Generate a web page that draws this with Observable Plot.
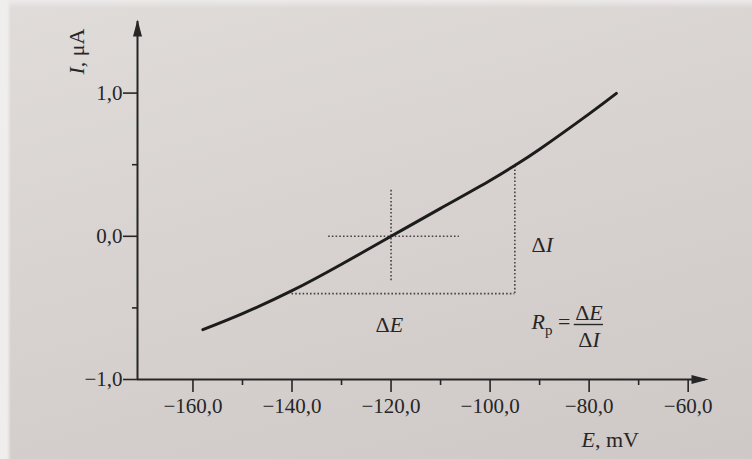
<!DOCTYPE html>
<html>
<head>
<meta charset="utf-8">
<script src="https://cdn.jsdelivr.net/npm/d3@7"></script>
<script src="https://cdn.jsdelivr.net/npm/@observablehq/plot@0.6"></script>
<style>
  html, body { margin: 0; padding: 0; }
  body {
    width: 752px; height: 459px; overflow: hidden;
    background:
      linear-gradient(to right, rgba(240,238,237,1) 0px, rgba(240,238,237,1) 7px, rgba(240,238,237,0) 11px),
      linear-gradient(to bottom, rgba(236,234,233,1) 0px, rgba(236,234,233,0) 8px),
      linear-gradient(165deg, #e0dcda 0%, #d8d3d1 45%, #cec9c7 100%);
  }
  #chart svg { display: block; }
</style>
</head>
<body>
<div id="chart"></div>
<script>
// Curve: potential E (mV) and current I (µA)
const E = [-158, -150, -140, -130, -120, -110, -100, -95, -90, -80, -74.5];
const I = [-0.652, -0.54, -0.38, -0.195, 0, 0.195, 0.39, 0.495, 0.608, 0.855, 0.998];

// Axis ticks
const xTicks = [-160, -140, -120, -100, -80, -60];
const xMinor = [-150, -130, -110, -90, -70];
const yTicks = [-1, 0, 1];
const yMinor = [-0.5, 0.5];

// Axis extents (origin at bottom-left, arrows at the ends)
const xDomain = [-171.2, -56.5];
const yDomain = [-1, 1.5];

// Dotted construction lines
const rectE = [-140, -95];        // ΔE span
const rectI = [-0.40, 0.49];      // ΔI span
const crossE = [-132.6, -106.2];  // horizontal cross-hair through (−120, 0)
const crossI = [-0.31, 0.33];     // vertical cross-hair
const zeroE = -120;               // corrosion potential

const fmt = d => d.toFixed(1).replace("-", "\u2212").replace(".", ",");
const ink = "#262626";
const dotted = {stroke: "#444", strokeWidth: 1.6, strokeDasharray: "1.6,2.1"};

const arrowUp = {draw(ctx) { ctx.moveTo(0, 0); ctx.lineTo(-4.5, 17); ctx.lineTo(4.5, 17); ctx.closePath(); }};
const arrowRight = {draw(ctx) { ctx.moveTo(0, 0); ctx.lineTo(-17, -4.5); ctx.lineTo(-17, 4.5); ctx.closePath(); }};

const curve = E.map((e, i) => ({E: e, I: I[i]}));

const chart = Plot.plot({
  width: 752,
  height: 459,
  marginLeft: 137,
  marginRight: 47,
  marginTop: 21,
  marginBottom: 80,
  x: {domain: xDomain},
  y: {domain: yDomain},
  style: {background: "transparent", fontFamily: "'Liberation Serif', 'DejaVu Serif', serif", color: ink},
  marks: [
    // axis lines and arrowheads
    Plot.ruleY([yDomain[0]], {stroke: ink, strokeWidth: 2}),
    Plot.ruleX([xDomain[0]], {stroke: ink, strokeWidth: 2}),
    Plot.dot([0], {x: xDomain[0], y: yDomain[1], symbol: arrowUp, fill: ink, stroke: "none", dy: -2}),
    Plot.dot([0], {x: xDomain[1], y: yDomain[0], symbol: arrowRight, fill: ink, stroke: "none", dx: 3}),
    // ticks
    Plot.axisX(xTicks, {tickSize: 13, tickPadding: 6, tickFormat: fmt, fontSize: 21, strokeWidth: 1.6, label: null}),
    Plot.axisX(xMinor, {tickSize: 6, tickFormat: () => "", strokeWidth: 1.6, label: null}),
    Plot.axisY(yTicks, {tickSize: 14, tickPadding: 1, tickFormat: fmt, fontSize: 21, strokeWidth: 1.6, label: null}),
    Plot.axisY(yMinor, {tickSize: 5, tickFormat: () => "", strokeWidth: 1.6, label: null}),
    // dotted construction
    Plot.ruleY([rectI[0]], {x1: rectE[0], x2: rectE[1], ...dotted}),
    Plot.ruleX([rectE[1]], {y1: rectI[0], y2: rectI[1], ...dotted}),
    Plot.ruleY([0], {x1: crossE[0], x2: crossE[1], ...dotted}),
    Plot.ruleX([zeroE], {y1: crossI[0], y2: crossI[1], ...dotted}),
    // polarisation curve
    Plot.line(curve, {x: "E", y: "I", curve: "natural", stroke: "#1c1c1c", strokeWidth: 3}),
    // axis titles
    Plot.text(["I, μA"], {frameAnchor: "top-left", dx: 76 - 137, dy: 51 - 21, rotate: -90, textAnchor: "middle", lineAnchor: "middle", fontSize: 22, fill: ink}),
    Plot.text(["E, mV"], {frameAnchor: "top-left", dx: 581 - 137, dy: 439.5 - 21, textAnchor: "start", lineAnchor: "middle", fontSize: 22, fill: ink}),
    // annotations
    Plot.text(["ΔI"], {frameAnchor: "top-left", dx: 531 - 137, dy: 244.5 - 21, textAnchor: "start", lineAnchor: "middle", fontSize: 22, fill: ink}),
    Plot.text(["ΔE"], {frameAnchor: "top-left", dx: 375 - 137, dy: 324 - 21, textAnchor: "start", lineAnchor: "middle", fontSize: 22, fill: ink}),
    Plot.text(["Rp ="], {frameAnchor: "top-left", dx: 531 - 137, dy: 321.5 - 21, textAnchor: "start", lineAnchor: "middle", fontSize: 22, fill: ink}),
    Plot.text(["ΔE "], {frameAnchor: "top-left", dx: 588.5 - 137, dy: 312.5 - 21, textAnchor: "middle", lineAnchor: "middle", fontSize: 22, fill: ink}),
    Plot.text(["ΔI "], {frameAnchor: "top-left", dx: 588.5 - 137, dy: 339.5 - 21, textAnchor: "middle", lineAnchor: "middle", fontSize: 22, fill: ink}),
    Plot.ruleY([-0.616], {x1: -83.0, x2: -77.1, stroke: ink, strokeWidth: 1.4})
  ]
});

// mixed italic / upright styling inside the labels
d3.select(chart).selectAll("text").each(function () {
  const t = this.textContent;
  const sel = d3.select(this);
  if (t === "I, μA") sel.html('<tspan font-style="italic">I</tspan>, μA');
  else if (t === "E, mV") sel.html('<tspan font-style="italic">E</tspan>, mV');
  else if (t === "ΔI" || t === "ΔI ") sel.html('Δ<tspan font-style="italic">I</tspan>');
  else if (t === "ΔE" || t === "ΔE ") sel.html('Δ<tspan font-style="italic">E</tspan>');
  else if (t === "Rp =") sel.html('<tspan font-style="italic">R</tspan><tspan font-size="15" dy="6">p</tspan><tspan dy="-6"> =</tspan>');
});

document.getElementById("chart").appendChild(chart);
</script>
</body>
</html>
